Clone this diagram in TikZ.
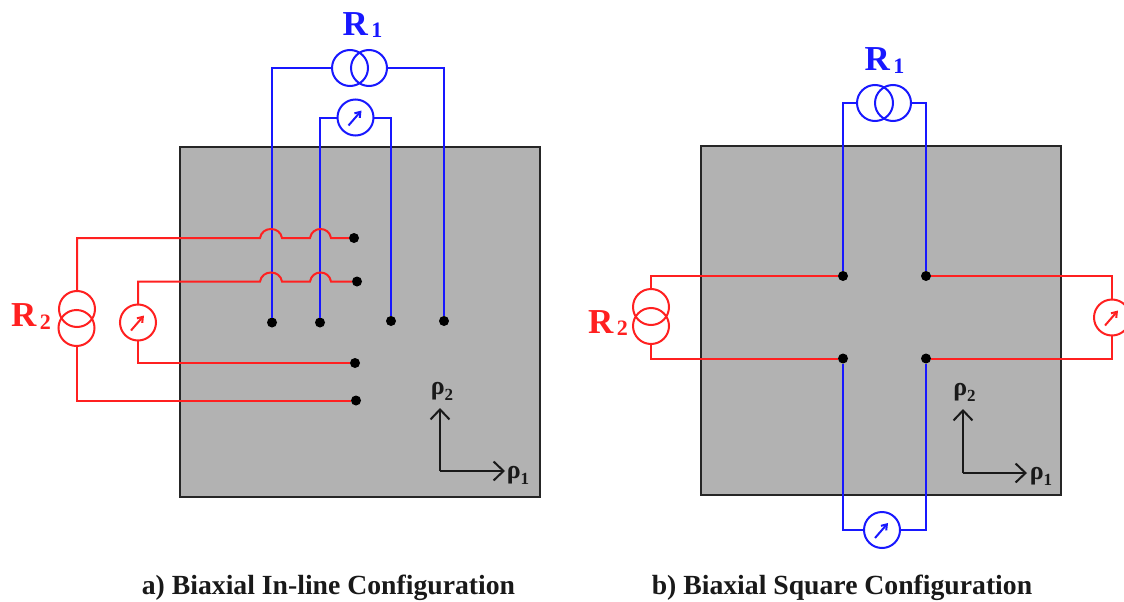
\documentclass[tikz,border=0pt]{standalone}
\usepackage{fontspec}
\setmainfont{Liberation Serif}[BoldFont={Liberation Serif Bold}]
\usetikzlibrary{arrows.meta}
\definecolor{wred}{RGB}{255,32,32}
\definecolor{wblue}{RGB}{24,24,255}
\definecolor{plate}{RGB}{178,178,178}
\tikzset{
  platebox/.style={draw=black!85,line width=2pt,fill=plate,minimum width=360pt,minimum height=350pt,inner sep=0pt,outer sep=0pt,anchor=north west},
  wire/.style={line width=2pt,line join=miter},
  jdot/.style={circle,fill=black,draw=none,minimum size=10pt,inner sep=0pt,outer sep=0pt},
  ring/.style={circle,draw,line width=2pt,minimum size=36pt,inner sep=0pt,outer sep=0pt},
  needle/.style={line width=2pt,-{Straight Barb[length=5pt,width=7pt]}},
  axisline/.style={line width=2pt,black!90,-{Straight Barb[length=10pt,width=19pt,line width=2pt]}},
  caption/.style={font=\bfseries\fontsize{27.7}{28}\selectfont,text=black!90,inner sep=0pt},
  rho/.style={font=\bfseries\fontsize{26}{26}\selectfont,text=black!90,inner sep=0pt},
  rname/.style={font=\bfseries\fontsize{35}{35}\selectfont,inner sep=0pt},
}
\newcommand{\subdig}[1]{\raisebox{-2.5pt}{\fontsize{22}{22}\selectfont #1}}
\newcommand{\rhosub}[1]{\raisebox{-6pt}{\fontsize{17}{17}\selectfont #1}}
\newcommand{\needlein}[1]{\draw[needle] ([shift={(-7pt,-8pt)}]#1.center) -- ([shift={(6pt,7pt)}]#1.center);}
\begin{document}
\begin{tikzpicture}[x=1pt,y=-1pt]
\useasboundingbox (0,0) rectangle (1124,602);
\clip (0,0) rectangle (1124,602);
% plates
\node[platebox] (plateA) at (179.5,146.5) {};
\node[platebox,minimum height=349pt] (plateB) at (701,145.5) {};

% ---- a) in-line ----
\node[jdot] (a1) at (272,322.5) {};
\node[jdot] (a2) at (320,322.5) {};
\node[jdot] (a3) at (391,321) {};
\node[jdot] (a4) at (444,321) {};
\node[jdot] (a5) at (354,238) {};
\node[jdot] (a6) at (357,281.5) {};
\node[jdot] (a7) at (355,363) {};
\node[jdot] (a8) at (356,400.5) {};

\begin{scope}[wblue]
\node[ring,draw=wblue] (aR1l) at (350,68) {};
\node[ring,draw=wblue] (aR1r) at (369,68) {};
\node[ring,draw=wblue] (aV1) at (355.5,117.5) {};
\needlein{aV1}
\draw[wire] (aR1l.west) -| (a1);
\draw[wire] (aR1r.east) -| (a4);
\draw[wire] (aV1.west) -| (a2);
\draw[wire] (aV1.east) -| (a3);
\end{scope}
\node[rname,text=wblue] (aR1t) at (362.5,25) {R\kern3.5pt\subdig{1}};

\begin{scope}[wred]
\node[ring,draw=wred] (aR2t) at (77,309) {};
\node[ring,draw=wred] (aR2b) at (76.5,328) {};
\node[ring,draw=wred] (aV2) at (138,322.5) {};
\needlein{aV2}
\coordinate (h1) at (260,238);
\coordinate (h2) at (282,238);
\coordinate (h3) at (310,238);
\coordinate (h4) at (331,238);
\draw[wire] (aR2t.north) |- (h1)
  .. controls ++(2,-12) and ++(-2,-12) .. (h2) -- (h3)
  .. controls ++(2,-12) and ++(-2,-12) .. (h4) -- (a5);
\coordinate (k1) at (260,281.5);
\coordinate (k2) at (282,281.5);
\coordinate (k3) at (310,281.5);
\coordinate (k4) at (331,281.5);
\draw[wire] (aV2.north) |- (k1)
  .. controls ++(2,-12) and ++(-2,-12) .. (k2) -- (k3)
  .. controls ++(2,-12) and ++(-2,-12) .. (k4) -- (a6);
\draw[wire] (aV2.south) |- (a7);
\draw[wire] (aR2b.south) |- (a8);
\end{scope}
\node[rname,text=wred] (aR2n) at (31,316.5) {R\kern3.5pt\subdig{2}};

\coordinate (aO) at (440,471);
\coordinate (aY) at (440,408);
\coordinate (aX) at (505,471);
\draw[axisline] (aO) -- (aY);
\draw[axisline] (aO) -- (aX);
\node[rho] (aRho2) at (442,391) {ρ\rhosub{2}};
\node[rho] (aRho1) at (518,475) {ρ\rhosub{1}};
\node[caption] (capA) at (328.5,588) {a) Biaxial In-line Configuration};

% ---- b) square ----
\node[jdot] (b1) at (843,276) {};
\node[jdot] (b2) at (926,276) {};
\node[jdot] (b3) at (843,358.5) {};
\node[jdot] (b4) at (926,358.5) {};

\begin{scope}[wblue]
\node[ring,draw=wblue] (bR1l) at (875,103) {};
\node[ring,draw=wblue] (bR1r) at (893,103) {};
\node[ring,draw=wblue] (bV1) at (882,530) {};
\needlein{bV1}
\draw[wire] (bR1l.west) -| (b1);
\draw[wire] (bR1r.east) -| (b2);
\draw[wire] (bV1.west) -| (b3);
\draw[wire] (bV1.east) -| (b4);
\end{scope}
\node[rname,text=wblue] (bR1t) at (884.5,60.5) {R\kern3.5pt\subdig{1}};

\begin{scope}[wred]
\node[ring,draw=wred] (bR2t) at (651,307) {};
\node[ring,draw=wred] (bR2b) at (651,326) {};
\node[ring,draw=wred] (bV2) at (1112,317.5) {};
\needlein{bV2}
\draw[wire] (bR2t.north) |- (b1);
\draw[wire] (bR2b.south) |- (b3);
\draw[wire] (bV2.north) |- (b2);
\draw[wire] (bV2.south) |- (b4);
\end{scope}
\node[rname,text=wred] (bR2n) at (608,323) {R\kern3.5pt\subdig{2}};

\coordinate (bO) at (963,473);
\coordinate (bY) at (963,409);
\coordinate (bX) at (1027,473);
\draw[axisline] (bO) -- (bY);
\draw[axisline] (bO) -- (bX);
\node[rho] (bRho2) at (964.5,392) {ρ\rhosub{2}};
\node[rho] (bRho1) at (1041,476) {ρ\rhosub{1}};
\node[caption] (capB) at (842,588) {b) Biaxial Square Configuration};
\end{tikzpicture}
\end{document}
